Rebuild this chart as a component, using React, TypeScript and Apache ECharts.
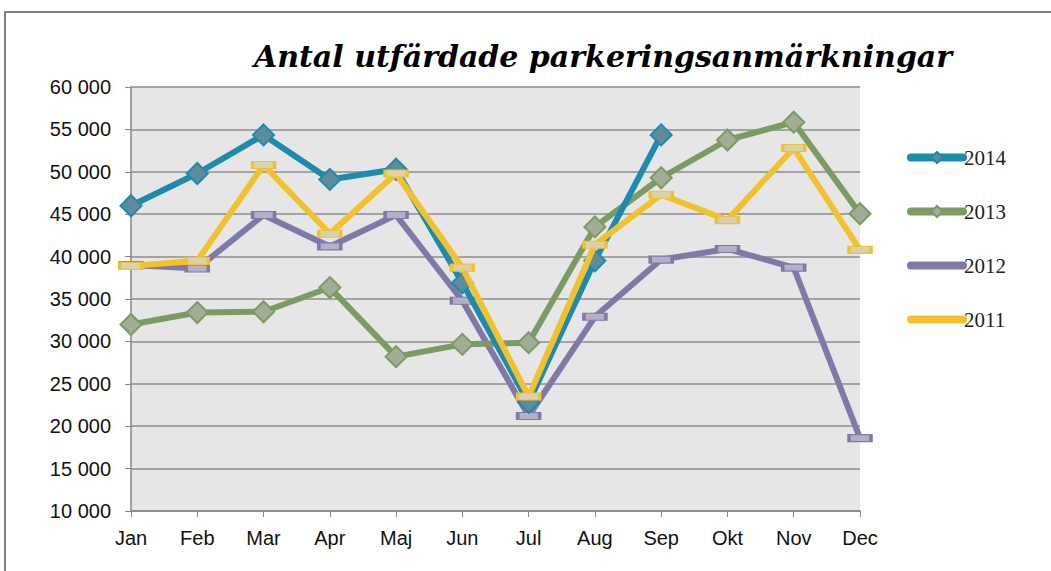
import React, { useEffect, useRef } from "react";
import * as echarts from "echarts";

const months = ["Jan", "Feb", "Mar", "Apr", "Maj", "Jun", "Jul", "Aug", "Sep", "Okt", "Nov", "Dec"];
const s2014 = [46000, 49800, 54350, 49100, 50300, 36900, 22800, 39500, 54350, null, null, null];
const s2013 = [32000, 33400, 33500, 36350, 28200, 29650, 29850, 43500, 49300, 53750, 55850, 45050];
const s2012 = [39000, 38600, 44900, 41200, 44900, 34800, 21200, 32900, 39650, 40900, 38700, 18600];
const s2011 = [38900, 39500, 50800, 42700, 49800, 38700, 23500, 41400, 47300, 44300, 52800, 40800];
const legendOrder = ["2014", "2013", "2012", "2011"];
const titleText = "Antal utfärdade parkeringsanmärkningar";

export default function App() {
  const ref = useRef<HTMLDivElement>(null);
  useEffect(() => {
    if (!ref.current) return;
    const chart = echarts.init(ref.current, null, { renderer: "svg" });
    const lineStyle = (color: string) => ({ color, width: 6, cap: "round", join: "round" });
    chart.setOption({
      animation: false,
      backgroundColor: "#ffffff",
      graphic: [
        {
          type: "rect",
          shape: { x: 5, y: 12, width: 1200, height: 700 },
          style: { fill: "none", stroke: "#7f7f7f", lineWidth: 2 },
          silent: true,
        },
        {
          type: "text",
          x: 603,
          y: 56,
          style: {
            text: titleText,
            fontFamily: "DejaVu Serif",
            fontWeight: "bold",
            fontStyle: "italic",
            fontSize: 30,
            fill: "#000",
            align: "center",
            verticalAlign: "middle",
          },
        },
      ],
      legend: {
        data: [
          { name: legendOrder[0] },
          { name: legendOrder[1] },
          { name: legendOrder[2], itemStyle: { opacity: 0 } },
          { name: legendOrder[3], itemStyle: { opacity: 0 } },
        ],
        orient: "vertical",
        left: 902,
        top: 142,
        itemWidth: 52,
        itemHeight: 14,
        itemGap: 33,
        lineStyle: { width: 8, cap: "round" },
        textStyle: { fontFamily: "Liberation Serif", fontSize: 21, color: "#222", padding: [0, 0, 0, -4] },
      },
      grid: {
        left: 131,
        right: 191,
        top: 87,
        bottom: 60,
        show: true,
        backgroundColor: "#e6e6e6",
        borderWidth: 0,
      },
      xAxis: {
        type: "category",
        data: months,
        boundaryGap: false,
        axisLine: { show: true, lineStyle: { color: "#868686", width: 1.5 } },
        axisTick: { show: true, length: 6, interval: 0, lineStyle: { color: "#868686" } },
        axisLabel: { fontFamily: "Liberation Sans", fontSize: 20, color: "#111", margin: 17, interval: 0 },
        splitLine: { show: false },
      },
      yAxis: {
        type: "value",
        min: 10000,
        max: 60000,
        interval: 5000,
        axisLine: { show: true, lineStyle: { color: "#868686", width: 1.5 } },
        axisTick: { show: true, length: 6, lineStyle: { color: "#868686" } },
        axisLabel: {
          fontFamily: "Liberation Sans",
          fontSize: 20,
          color: "#111",
          margin: 20,
          formatter: (v: number) => Math.round(v / 1000) + " 000",
        },
        splitLine: { show: true, lineStyle: { color: "#8c8c8c", width: 1.5 } },
      },
      series: [
        {
          name: "2012",
          type: "line",
          data: s2012,
          z: 2,
          color: "#8079a5",
          lineStyle: lineStyle("#8079a5"),
          symbol: "rect",
          symbolSize: [22, 7],
          itemStyle: { color: "#b5afc9", borderColor: "#8079a5", borderWidth: 2 },
        },
        {
          name: "2013",
          type: "line",
          data: s2013,
          z: 3,
          color: "#7c9a63",
          lineStyle: lineStyle("#7c9a63"),
          symbol: "diamond",
          symbolSize: 21,
          itemStyle: { color: "#a2ad97", borderColor: "#7c9a63", borderWidth: 2 },
        },
        {
          name: "2014",
          type: "line",
          data: s2014,
          z: 4,
          color: "#1e8aad",
          lineStyle: lineStyle("#1e8aad"),
          symbol: "diamond",
          symbolSize: 21,
          itemStyle: { color: "#5f8c9b", borderColor: "#1e8aad", borderWidth: 2 },
        },
        {
          name: "2011",
          type: "line",
          data: s2011,
          z: 5,
          color: "#f2c12e",
          lineStyle: lineStyle("#f2c12e"),
          symbol: "rect",
          symbolSize: [22, 7],
          itemStyle: { color: "#d9d1b0", borderColor: "#f2c12e", borderWidth: 2 },
        },
      ],
    });
    return () => chart.dispose();
  }, []);
  return (
    <div
      ref={ref}
      style={{ position: "fixed", left: 0, top: 0, width: 1051, height: 571 }}
    />
  );
}
